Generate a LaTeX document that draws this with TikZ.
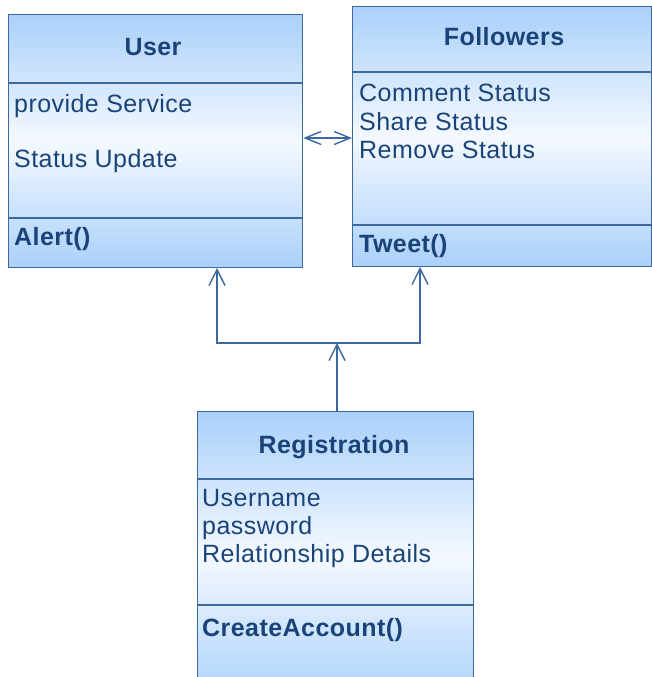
\documentclass[tikz,border=0pt]{standalone}
\usepackage{fontspec}
\setmainfont{Liberation Sans}[LetterSpace=1.8]
\usetikzlibrary{arrows.meta}
\definecolor{bordc}{RGB}{60,105,160}
\definecolor{txtc}{RGB}{26,68,120}
\definecolor{blu}{RGB}{170,208,250}
\definecolor{wht}{RGB}{244,249,255}
\begin{document}
\begin{tikzpicture}[x=1pt,y=-1pt,
 umlbox/.style={draw=bordc, line width=1.3pt, top color=blu, bottom color=blu, middle color=wht, anchor=north west, inner sep=0pt},
 divider/.style={draw=bordc, line width=1.2pt},
 ttl/.style={text=txtc, font=\fontsize{25}{28}\selectfont\bfseries, anchor=base, inner sep=0pt},
 attr/.style={text=txtc, font=\fontsize{25}{28}\selectfont, anchor=base west, inner sep=0pt},
 meth/.style={text=txtc, font=\fontsize{25}{28}\selectfont\bfseries, anchor=base west, inner sep=0pt},
 conn/.style={draw=bordc, line width=1.4pt},
 gen/.style={conn, -{Straight Barb[length=16pt,width=16pt]}},
 assoc/.style={conn, {Straight Barb[length=16pt,width=13pt]}-{Straight Barb[length=16pt,width=13pt]}}
]
\useasboundingbox (0,0) rectangle (652,677);
\begin{scope}
\clip (0,0) rectangle (652,677);
% boxes
\node[umlbox, minimum width=294pt, minimum height=253pt] (user) at (8,14) {};
\node[umlbox, minimum width=299pt, minimum height=260pt] (fol) at (352,6) {};
\node[umlbox, minimum width=276pt, minimum height=290pt] (reg) at (197,411) {};
% dividers
\draw[divider] (user.west |- 0,83) -- (user.east |- 0,83);
\draw[divider] (user.west |- 0,218) -- (user.east |- 0,218);
\draw[divider] (fol.west |- 0,72) -- (fol.east |- 0,72);
\draw[divider] (fol.west |- 0,225) -- (fol.east |- 0,225);
\draw[divider] (reg.west |- 0,479) -- (reg.east |- 0,479);
\draw[divider] (reg.west |- 0,605) -- (reg.east |- 0,605);
% texts
\node[ttl] (userT) at (153,56) {User};
\node[attr] (u1) at (14,112) {provide Service};
\node[attr] (u2) at (14,167) {Status Update};
\node[meth] (u3) at (14,245) {Alert()};
\node[ttl] (folT) at (504,46) {Followers};
\node[attr] (f1) at (359,101) {Comment Status};
\node[attr] (f2) at (359,130) {Share Status};
\node[attr] (f3) at (359,158) {Remove Status};
\node[meth] (f4) at (359,252) {Tweet()};
\node[ttl] (regT) at (334,453) {Registration};
\node[attr] (r1) at (202,506) {Username};
\node[attr] (r2) at (202,534) {password};
\node[attr] (r3) at (202,562) {Relationship Details};
\node[meth] (r4) at (202,636) {CreateAccount()};
% connectors
\coordinate (j) at (337,343);
\coordinate (ut) at (217,268);
\coordinate (ft) at (420,267);
\draw[assoc] (user.east |- 0,138) -- (fol.west |- 0,138);
\draw[gen] (reg.north -| j) -- (j);
\draw[gen] (j) -| (ut);
\draw[gen] (j) -| (ft);
\end{scope}
\end{tikzpicture}
\end{document}
